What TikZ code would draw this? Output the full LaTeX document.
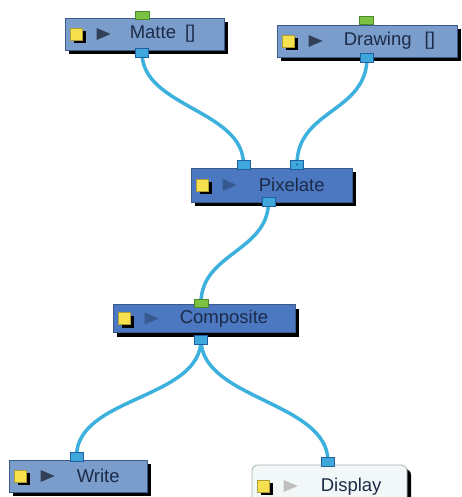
\documentclass[tikz,border=0pt]{standalone}
\usepackage{fontspec}
\setmainfont{Liberation Sans}
\usetikzlibrary{shadows,backgrounds}

\definecolor{lightmod}{HTML}{7B9DCB}
\definecolor{darkmod}{HTML}{4B78C0}
\definecolor{modedge}{HTML}{3A5A8A}
\definecolor{dispfill}{HTML}{F2F7F7}
\definecolor{dispedge}{HTML}{A8B0B0}
\definecolor{cablecol}{HTML}{3CB1DD}
\definecolor{portblue}{HTML}{3EA8DC}
\definecolor{portedge}{HTML}{1F5F9F}
\definecolor{portgreen}{HTML}{7CC242}
\definecolor{greenedge}{HTML}{4A8A2A}
\definecolor{iconyellow}{HTML}{F7E04E}
\definecolor{labelcol}{HTML}{1C2B48}

\tikzset{
  module/.style={draw=modedge,line width=0.8pt,fill=#1,inner sep=0pt,
    drop shadow={shadow xshift=4pt,shadow yshift=-4pt,fill=black,opacity=1}},
  modlabel/.style={anchor=west,inner sep=0pt,text=labelcol,
    font=\fontsize{18.5}{20}\selectfont},
  outport/.style={draw=portedge,fill=portblue,line width=0.8pt,inner sep=0pt,
    minimum width=13pt,minimum height=9pt},
  inport/.style={draw=greenedge,fill=portgreen,line width=0.8pt,inner sep=0pt,
    minimum width=14pt,minimum height=8pt},
  cable/.style={draw=cablecol,line width=3.5pt,line cap=round}
}

% yellow square and play arrow at the left of a module
\newcommand{\modicons}[2]{%
  \begin{scope}[shift={(#1.west)}]
    \fill[black] (9,-3) rectangle (21,9);
    \filldraw[draw=iconyellow!70!black,fill=iconyellow,line width=0.5pt] (6,-6) rectangle (18,6);
    \fill[#2] (32,-6) -- (32,6) -- (46,0) -- cycle;
  \end{scope}}

\begin{document}
\begin{tikzpicture}[x=1pt,y=-1pt]
  \useasboundingbox (0,0) rectangle (461,497);
  \clip (0,0) rectangle (461,497);

  % modules
  \node[module=lightmod,minimum width=159pt,minimum height=32pt] (matte) at (144.5,34) {};
  \node[module=lightmod,minimum width=180pt,minimum height=32pt] (drawing) at (367,41) {};
  \node[module=darkmod,minimum width=161pt,minimum height=34pt] (pixelate) at (271.5,185) {};
  \node[module=darkmod,minimum width=182pt,minimum height=28pt] (composite) at (204,318.5) {};
  \node[module=lightmod,minimum width=138pt,minimum height=32pt] (write) at (78,476) {};
  \node[module=dispfill,draw=dispedge,rounded corners=6pt,minimum width=155pt,minimum height=38pt] (display) at (329.5,484) {};

  \modicons{matte}{labelcol!90}
  \modicons{drawing}{labelcol!90}
  \modicons{pixelate}{darkmod!60!labelcol}
  \modicons{composite}{darkmod!60!labelcol}
  \modicons{write}{labelcol!90}
  \begin{scope}[shift={(display.west)}]
    \fill[black] (9,-1) rectangle (21,11);
    \filldraw[draw=iconyellow!70!black,fill=iconyellow,line width=0.5pt] (6,-4) rectangle (18,8);
    \fill[black!25] (32,-4) -- (32,8) -- (46,2) -- cycle;
  \end{scope}

  \node[modlabel] (matte-text) at ([xshift=65pt]matte.west) {Matte\hspace{9pt}[]};
  \node[modlabel] (drawing-text) at ([xshift=67pt]drawing.west) {Drawing\hspace{13pt}[]};
  \node[modlabel] (pixelate-text) at ([xshift=68pt]pixelate.west) {Pixelate};
  \node[modlabel] (composite-text) at ([xshift=67pt]composite.west) {Composite};
  \node[modlabel] (write-text) at ([xshift=68pt]write.west) {Write};
  \node[modlabel] (display-text) at ([xshift=69pt,yshift=-3pt]display.west) {Display};

  % ports
  \node[inport] (matte-in) at (142,15.5) {};
  \node[outport] (matte-out) at (142,52.5) {};
  \node[inport] (drawing-in) at (366,20.5) {};
  \node[outport] (drawing-out) at (367,57.5) {};
  \node[outport] (pix-in1) at (243.5,164.5) {};
  \node[outport] (pix-in2) at (297,164.5) {};
  \fill[portedge] (pix-in2.center) circle (1.2pt);
  \node[outport] (pix-out) at (268.5,201.5) {};
  \node[inport] (comp-in) at (201,303) {};
  \node[outport] (comp-out) at (201,339.5) {};
  \node[outport] (write-in) at (76.5,456.5) {};
  \node[outport] (disp-in) at (328,461.5) {};

  % cables
  \begin{scope}[on background layer]
    \draw[cable] (matte-out.center) .. controls +(0,55) and +(0,-55) .. (pix-in1.center);
    \draw[cable] (drawing-out.center) .. controls +(0,55) and +(0,-55) .. (pix-in2.center);
    \draw[cable] (pix-out.center) .. controls +(0,50) and +(0,-50) .. (comp-in.center);
    \draw[cable] (comp-out.center) .. controls +(0,60) and +(0,-60) .. (write-in.center);
    \draw[cable] (comp-out.center) .. controls +(0,60) and +(0,-60) .. (disp-in.center);
  \end{scope}
\end{tikzpicture}
\end{document}
